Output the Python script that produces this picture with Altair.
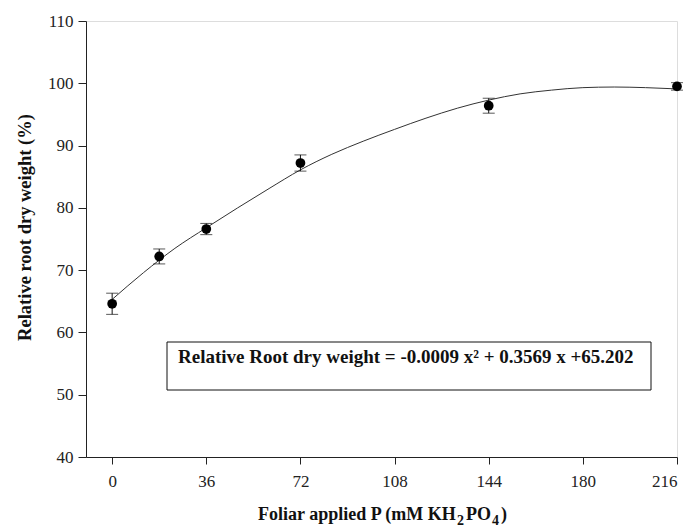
import altair as alt
import pandas as pd

# Observed means with standard errors
p_rate = [0, 18, 36, 72, 144, 216]
root_dw = [64.6, 72.2, 76.6, 87.2, 96.4, 99.5]
se = [1.7, 1.2, 0.9, 1.3, 1.2, 0.6]

# Fitted curve
curve_x = [0, 12, 24, 36, 48, 60, 72, 84, 96, 108, 120, 132, 144, 156, 168, 180, 192, 204, 216]
curve_y = [65.3, 69.6, 73.5, 76.8, 80.0, 83.1, 86.1, 88.6, 90.7, 92.6, 94.4, 96.0, 97.3, 98.3, 98.9, 99.3, 99.4, 99.3, 99.1]

x_ticks = [0, 36, 72, 108, 144, 180, 216]
y_ticks = [40, 50, 60, 70, 80, 90, 100, 110]
equation = "Relative Root dry weight = -0.0009 x\u00b2 + 0.3569 x +65.202"
y_title = "Relative root dry weight (%)"
# x-axis title pieces: text, is_subscript
x_title_parts = [("Foliar applied P (mM KH", False), ("2", True), ("PO", False), ("4", True), (")", False)]

pts = pd.DataFrame({"x": p_rate, "y": root_dw, "se": se})
pts["lo"] = pts["y"] - pts["se"]
pts["hi"] = pts["y"] + pts["se"]
crv = pd.DataFrame({"x": curve_x, "y": curve_y})

FONT = "Liberation Serif"
W, H = 591, 436

xs = alt.Scale(domain=[-10, 216], nice=False, zero=False)
ys = alt.Scale(domain=[40, 110], nice=False, zero=False)

xax = alt.Axis(values=x_ticks, title="", grid=False,
               labelFont=FONT, labelFontSize=17, labelColor="#222", tickSize=7,
               labelPadding=9, domainColor="#222", tickColor="#222")
yax = alt.Axis(values=y_ticks, title=y_title, grid=False,
               labelFont=FONT, labelFontSize=17, labelColor="#222", tickSize=8,
               labelPadding=5, titleFont=FONT, titleFontSize=18.5, titleFontWeight="bold",
               titleColor="#111", titleX=-56, titleY=206, titleAngle=270,
               titleAlign="center", titleBaseline="alphabetic",
               domainColor="#222", tickColor="#222")

base_pts = alt.Chart(pts)

curve = alt.Chart(crv).mark_line(color="#333", strokeWidth=1, interpolate="monotone").encode(
    x=alt.X("x:Q", scale=xs, axis=xax),
    y=alt.Y("y:Q", scale=ys, axis=yax),
)

bars = base_pts.mark_rule(color="#111", strokeWidth=1).encode(
    x=alt.X("x:Q", scale=xs), y=alt.Y("lo:Q", scale=ys), y2="hi:Q"
)
cap_lo = base_pts.mark_tick(color="#111", thickness=1, size=12, orient="horizontal").encode(
    x=alt.X("x:Q", scale=xs), y=alt.Y("lo:Q", scale=ys)
)
cap_hi = base_pts.mark_tick(color="#111", thickness=1, size=12, orient="horizontal").encode(
    x=alt.X("x:Q", scale=xs), y=alt.Y("hi:Q", scale=ys)
)
dots = base_pts.mark_circle(color="#000", size=95, opacity=1).encode(
    x=alt.X("x:Q", scale=xs), y=alt.Y("y:Q", scale=ys)
)

box = alt.Chart(pd.DataFrame({"t": [equation]})).mark_rect(
    fill="white", stroke="#111", strokeWidth=1
).encode(x=alt.value(81), x2=alt.value(565), y=alt.value(321), y2=alt.value(369))

label = alt.Chart(pd.DataFrame({"t": [equation]})).mark_text(
    font=FONT, fontSize=19, fontWeight="bold", align="left", baseline="middle", color="#111"
).encode(x=alt.value(92), y=alt.value(336), text="t:N")

# x-axis title built from pieces so the subscripts read clearly
part_x = [172, 371, 380, 406, 415]
title_layers = []
for (txt, sub), px in zip(x_title_parts, part_x):
    title_layers.append(
        alt.Chart(pd.DataFrame({"t": [txt]})).mark_text(
            font=FONT, fontSize=14 if sub else 18, fontWeight="bold", align="left",
            baseline="alphabetic", color="#111"
        ).encode(x=alt.value(px), y=alt.value(504 if sub else 499), text="t:N")
    )

chart = alt.layer(curve, bars, cap_lo, cap_hi, dots, box, label, *title_layers).properties(
    width=W, height=H,
    autosize=alt.AutoSizeParams(type="none"),
    padding={"left": 78, "top": 13, "right": 6, "bottom": 70},
).configure_view(stroke=None).configure(background="white")

chart.save("out.html", embed_options={"renderer": "svg", "actions": False})
